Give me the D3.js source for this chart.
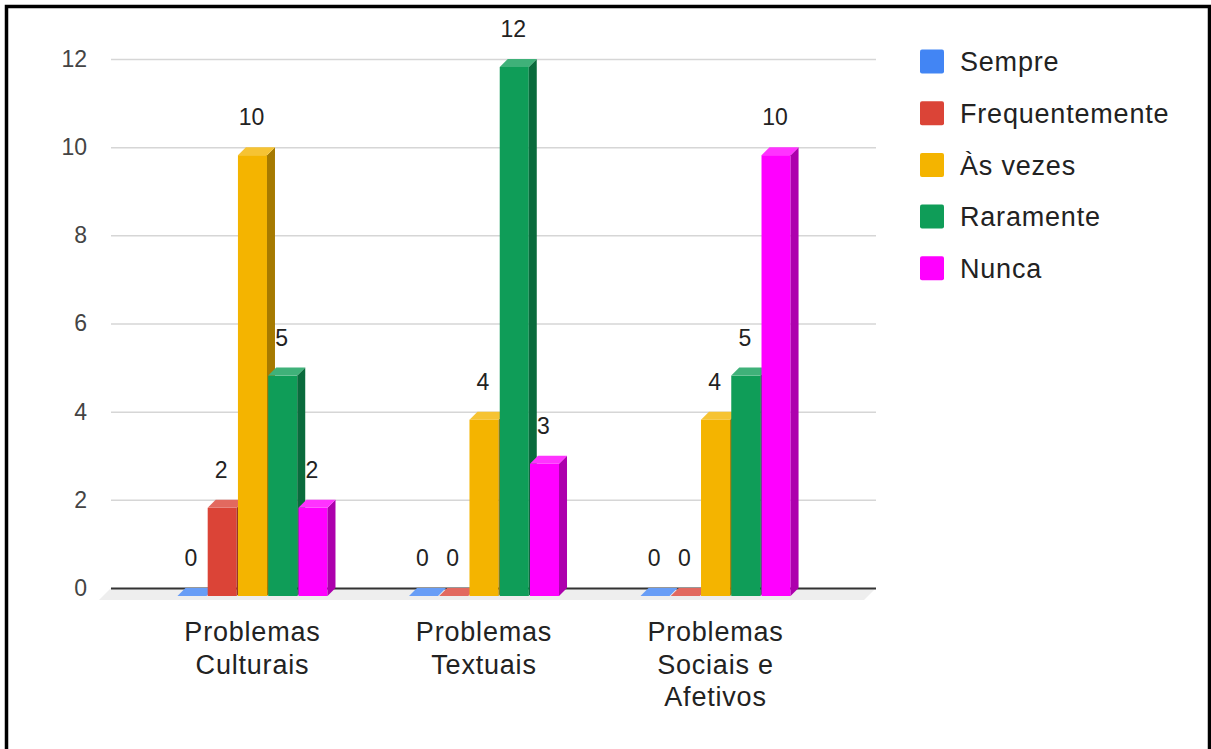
<!DOCTYPE html>
<html>
<head>
<meta charset="utf-8">
<script src="https://cdn.jsdelivr.net/npm/d3@7"></script>
<style>
  html, body { margin: 0; padding: 0; background: #fff; }
  svg { display: block; font-family: "Liberation Sans", Arial, sans-serif; }
</style>
</head>
<body>
<svg id="chart" width="1211" height="749"></svg>
<script>
// Survey answers per problem area
const categories = ["Problemas Culturais", "Problemas Textuais", "Problemas Sociais e Afetivos"];
const seriesNames = ["Sempre", "Frequentemente", "Às vezes", "Raramente", "Nunca"];
const seriesColors = ["#4285F4", "#DB4437", "#F4B400", "#0F9D58", "#FF00FF"];
const sempre = [0, 0, 0];
const frequentemente = [2, 0, 0];
const asVezes = [10, 4, 4];
const raramente = [5, 12, 5];
const nunca = [2, 3, 10];
const yTicks = [0, 2, 4, 6, 8, 10, 12];

const seriesValues = [sempre, frequentemente, asVezes, raramente, nunca];

const svg = d3.select("#chart");

// plot area (back wall) and 3D depth
const plot = { left: 111, right: 876, top: 59, bottom: 588 };
const depth = 8;        // bar depth offset
const floorDepth = 12;  // floor depth offset

const x0 = d3.scaleBand()
  .domain(categories)
  .range([plot.left - 1.5, plot.right - 1.5])
  .paddingInner(0.352)
  .paddingOuter(0.328);

const x1 = d3.scaleBand()
  .domain(seriesNames)
  .range([0, x0.bandwidth()])
  .paddingInner(0.04)
  .paddingOuter(0);

const y = d3.scaleLinear().domain([0, 12]).range([plot.bottom, plot.top]);

const topShade = c => d3.interpolateRgb(c, "#ffffff")(0.2);
const sideShade = c => { const r = d3.rgb(c); return d3.rgb(r.r * 0.68, r.g * 0.68, r.b * 0.68).formatHex(); };

// floor
svg.append("path")
  .attr("d", `M${plot.left},${plot.bottom} L${plot.right},${plot.bottom} L${plot.right - floorDepth},${plot.bottom + floorDepth} L${plot.left - floorDepth},${plot.bottom + floorDepth} Z`)
  .attr("fill", "#eeeeee");

// gridlines + y tick labels
const yAxis = d3.axisLeft(y).tickValues(yTicks).tickSize(-(plot.right - plot.left)).tickPadding(24);
const gy = svg.append("g").attr("transform", `translate(${plot.left},0)`).call(yAxis);
gy.select(".domain").remove();
gy.selectAll(".tick line").attr("stroke", d => d === 0 ? "#333" : "#d6d6d6").attr("stroke-width", d => d === 0 ? 2 : 1.5);
gy.selectAll(".tick text")
  .attr("fill", "#444")
  .style("font-size", "23px")
  .style("font-family", "'Liberation Sans', Arial, sans-serif");

// flat records for bars
const records = [];
categories.forEach((cat, ci) => {
  seriesNames.forEach((s, si) => {
    records.push({ cat, series: s, value: seriesValues[si][ci], color: seriesColors[si] });
  });
});

const frontX = d => x0(d.cat) + x1(d.series) - depth;
const bw = x1.bandwidth();

// value labels (drawn beneath the bars)
svg.append("g").selectAll("text")
  .data(records)
  .join("text")
  .attr("x", d => frontX(d) + bw / 2 - 1)
  .attr("y", d => y(d.value) - 22)
  .attr("text-anchor", "middle")
  .attr("fill", "#222")
  .style("font-size", "23px")
  .text(d => d.value);

// 3D bars
const bars = svg.append("g").selectAll("g")
  .data(records)
  .join("g");

bars.each(function(d) {
  const g = d3.select(this);
  const fx = frontX(d);
  const fTop = y(d.value) + depth;
  const fBot = y(0) + depth;
  if (d.value > 0) {
    g.append("rect")
      .attr("x", fx).attr("y", fTop)
      .attr("width", bw).attr("height", fBot - fTop)
      .attr("fill", d.color);
    g.append("path")
      .attr("d", `M${fx + bw},${fTop} L${fx + bw + depth},${fTop - depth} L${fx + bw + depth},${fBot - depth} L${fx + bw},${fBot} Z`)
      .attr("fill", sideShade(d.color));
  }
  g.append("path")
    .attr("d", `M${fx},${fTop} L${fx + depth},${fTop - depth} L${fx + bw + depth},${fTop - depth} L${fx + bw},${fTop} Z`)
    .attr("fill", topShade(d.color));
});

// category labels with word wrapping
const catLabels = svg.append("g").selectAll("text")
  .data(categories)
  .join("text")
  .attr("x", d => x0(d) + x0.bandwidth() / 2 - depth)
  .attr("y", 641)
  .attr("text-anchor", "middle")
  .attr("fill", "#222")
  .style("font-size", "27px")
  .style("letter-spacing", "0.8px");

catLabels.each(function(d) {
  const t = d3.select(this);
  const words = d.split(" ");
  const maxW = 150;
  let line = [];
  const lines = [];
  const probe = t.append("tspan");
  words.forEach(w => {
    const test = line.concat(w).join(" ");
    probe.text(test);
    if (probe.node().getComputedTextLength() > maxW && line.length) {
      lines.push(line.join(" "));
      line = [w];
    } else {
      line.push(w);
    }
  });
  lines.push(line.join(" "));
  probe.remove();
  const cx = t.attr("x");
  lines.forEach((l, i) => {
    t.append("tspan").attr("x", cx).attr("dy", i === 0 ? 0 : 32.5).text(l);
  });
});

// legend
const legend = svg.append("g").selectAll("g")
  .data(seriesNames)
  .join("g")
  .attr("transform", (d, i) => `translate(920, ${61.5 + i * 51.7})`);

legend.append("rect")
  .attr("x", 0).attr("y", -12)
  .attr("width", 24).attr("height", 24)
  .attr("rx", 2)
  .attr("fill", (d, i) => seriesColors[i]);

legend.append("text")
  .attr("x", 40).attr("y", 0)
  .attr("dy", "0.36em")
  .attr("fill", "#222")
  .style("font-size", "27px")
  .style("letter-spacing", "0.8px")
  .text(d => d);

// frame
svg.append("rect")
  .attr("x", 6.5).attr("y", 6.5)
  .attr("width", 1203).attr("height", 780)
  .attr("fill", "none")
  .attr("stroke", "#000")
  .attr("stroke-width", 3.5);
</script>
</body>
</html>
